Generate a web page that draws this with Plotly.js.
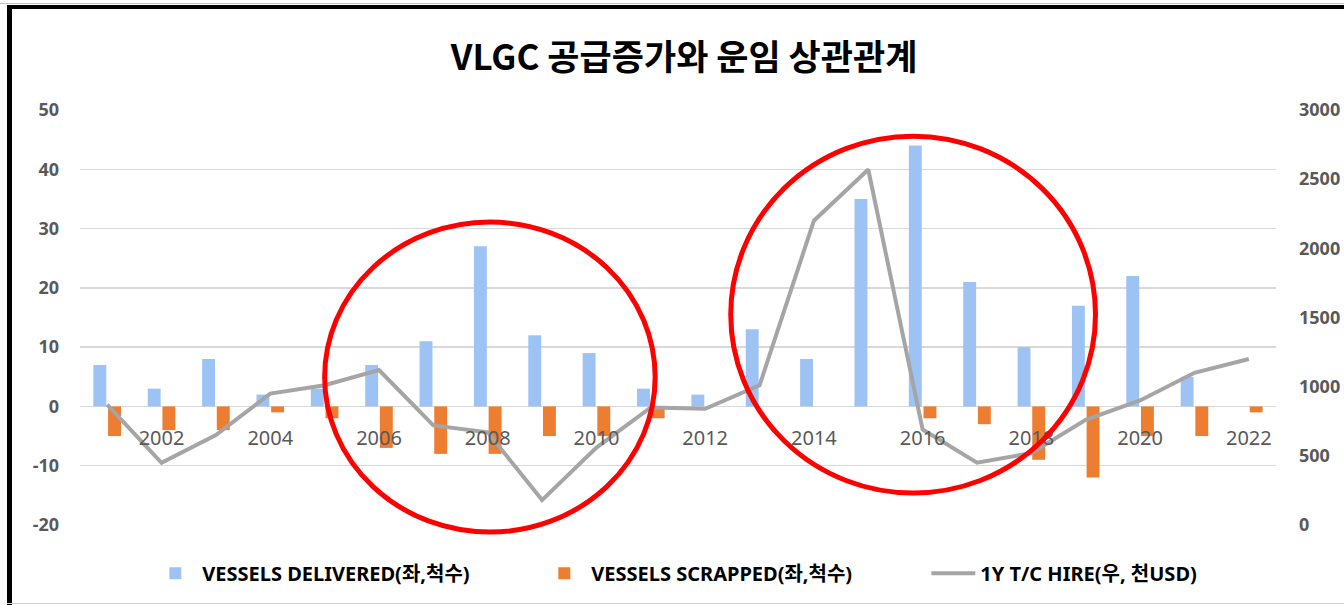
<!DOCTYPE html>
<html>
<head>
<meta charset="utf-8">
<script src="https://cdn.plot.ly/plotly-3.0.1.min.js"></script>
<style>
  html, body { margin: 0; padding: 0; background: #fff; }
  #wrap { position: relative; width: 1344px; height: 605px; overflow: hidden; }
  #chart { position: absolute; left: 0; top: 0; width: 1344px; height: 605px; }
  .frame { position: absolute; pointer-events: none; }
</style>
</head>
<body>
<div id="wrap">
  <div id="chart"></div>
  <div class="frame" style="left:0;top:3px;width:1344px;height:1px;background:#c0c0c0;"></div>
  <div class="frame" style="left:7px;top:5px;width:1337px;height:4px;background:#000;"></div>
  <div class="frame" style="left:7px;top:5px;width:5px;height:600px;background:#000;"></div>
  <div class="frame" style="left:7px;top:603px;width:1337px;height:1px;background:#d0d0d0;"></div>
</div>
<script>
const years = [2001,2002,2003,2004,2005,2006,2007,2008,2009,2010,2011,2012,2013,2014,2015,2016,2017,2018,2019,2020,2021,2022];
const delivered = [7,3,8,2,3,7,11,27,12,9,3,2,13,8,35,44,21,10,17,22,5,0];
const scrapped = [-5,-4,-4,-1,-2,-7,-8,-8,-5,-5,-2,0,0,0,0,-2,-3,-9,-12,-5,-5,-1];
const hire = [870,450,650,950,1010,1120,720,670,180,560,850,840,1010,2200,2570,690,450,520,760,900,1100,1200];
const xTickVals = [2002,2004,2006,2008,2010,2012,2014,2016,2018,2020,2022];
const leftTicks = [-20,-10,0,10,20,30,40,50];
const rightTicks = [0,500,1000,1500,2000,2500,3000];

const FONT = "'Noto Sans', 'Noto Sans CJK KR', sans-serif";

const traces = [
  { type: 'bar', name: 'VESSELS DELIVERED(좌,척수)', x: years, y: delivered,
    marker: { color: '#9DC3F5' }, yaxis: 'y' },
  { type: 'bar', name: 'VESSELS SCRAPPED(좌,척수)', x: years, y: scrapped,
    marker: { color: '#ED7D31' }, yaxis: 'y' },
  { type: 'scatter', mode: 'lines', name: '1Y T/C HIRE(우, 천USD)', x: years, y: hire,
    line: { color: '#A5A5A5', width: 4 }, yaxis: 'y2' }
];

const layout = {
  width: 1344, height: 605,
  paper_bgcolor: '#ffffff', plot_bgcolor: 'rgba(0,0,0,0)',
  margin: { l: 80, r: 68, t: 110, b: 80, autoexpand: false },
  font: { family: FONT, color: '#595959' },
  title: { text: '<b>VLGC 공급증가와 운임 상관관계</b>', xref: 'container', x: 0.509, xanchor: 'center',
           yref: 'container', y: 0.905, yanchor: 'middle',
           font: { family: "'Noto Sans CJK KR', sans-serif", size: 35, color: '#000000' } },
  barmode: 'group', bargap: 0.46, bargroupgap: 0.12,
  showlegend: true,
  legend: { orientation: 'h', x: 0.545, xanchor: 'center', y: -0.116, yanchor: 'middle',
            font: { family: FONT, size: 20, color: '#000000', weight: 'bold' },
            entrywidth: 330, itemwidth: 44, traceorder: 'normal' },
  xaxis: { type: 'linear', range: [2000.5, 2022.5], tickmode: 'array', tickvals: xTickVals,
           ticktext: xTickVals.map(String),
           anchor: 'free', position: 20/70, showgrid: false, zeroline: false, showline: false,
           ticks: '', ticklabelstandoff: 18,
           tickfont: { family: FONT, size: 20, color: '#595959' } },
  yaxis: { range: [-20, 50], tickmode: 'array', tickvals: leftTicks, ticktext: leftTicks.map(String),
           showgrid: true, gridcolor: '#d9d9d9', gridwidth: 1.5,
           zeroline: true, zerolinecolor: '#d9d9d9', zerolinewidth: 1.5,
           showline: false, ticks: '', ticklabelstandoff: 20,
           tickfont: { family: FONT, size: 18, color: '#595959', weight: 'bold' } },
  yaxis2: { range: [0, 3000], overlaying: 'y', side: 'right', tickmode: 'array', tickvals: rightTicks,
            ticktext: rightTicks.map(String), showgrid: false, zeroline: false, showline: false,
            ticks: '', ticklabelstandoff: 22,
            tickfont: { family: FONT, size: 18, color: '#595959', weight: 'bold' } },
  shapes: [
    { type: 'circle', xref: 'x', yref: 'paper', x0: 2005.0, x1: 2011.08, y0: -0.017, y1: 0.730,
      line: { color: '#FF0000', width: 5 }, layer: 'above' },
    { type: 'circle', xref: 'x', yref: 'paper', x0: 2012.47, x1: 2019.18, y0: 0.077, y1: 0.937,
      line: { color: '#FF0000', width: 5 }, layer: 'above' }
  ]
};

Plotly.newPlot('chart', traces, layout, { displayModeBar: false, staticPlot: true });
</script>
</body>
</html>
